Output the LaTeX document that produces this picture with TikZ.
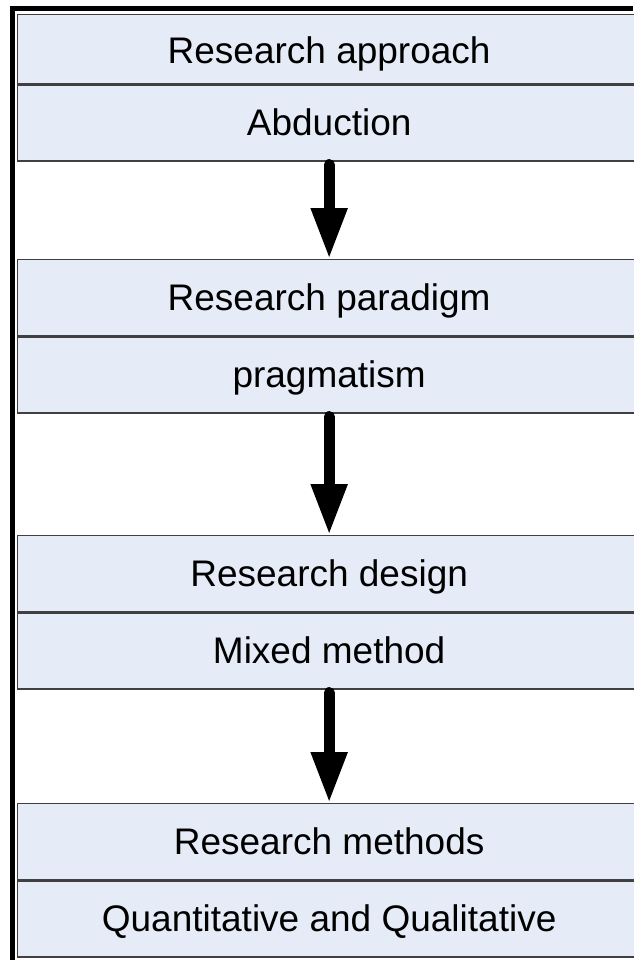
\documentclass[tikz,border=0pt]{standalone}
\usepackage{fontspec}
\setmainfont{Liberation Sans}
\usepackage{tikz}
\usetikzlibrary{positioning,arrows.meta}
\definecolor{cellfill}{HTML}{E6ECF7}
\definecolor{cellline}{HTML}{404040}

\begin{document}
\begin{tikzpicture}[x=1pt,y=-1pt,
    cell/.style={draw=cellline,line width=1.3pt,fill=cellfill,anchor=north west,
      minimum width=623pt,minimum height=76pt,inner sep=0pt,
      font=\fontsize{37}{44}\selectfont,text height=29.5pt,text depth=4.5pt},
    flow/.style={line width=11pt,line cap=round,shorten <=3pt,
      -{Triangle[width=34pt,length=51pt]}}]
  \useasboundingbox (0,0) rectangle (633,960);
  \node[cell,minimum height=69pt,text height=32.5pt] (a1) at (17,14) {Research approach};
  \node[cell,below=0pt of a1] (a2) {Abduction};
  \node[cell] (b1) at (17,259) {Research paradigm};
  \node[cell,below=0pt of b1] (b2) {pragmatism};
  \node[cell] (c1) at (17,535) {Research design};
  \node[cell,below=0pt of c1] (c2) {Mixed method};
  \node[cell] (d1) at (17,803) {Research methods};
  \node[cell,below=0pt of d1] (d2) {Quantitative and Qualitative};
  \draw[flow] (a2.south) -- (b1.north);
  \draw[flow] (b2.south) -- (c1.north);
  \draw[flow] (c2.south) -- (d1.north);
  \draw[line width=5pt] (12.5,960) |- (633,9);
\end{tikzpicture}
\end{document}
